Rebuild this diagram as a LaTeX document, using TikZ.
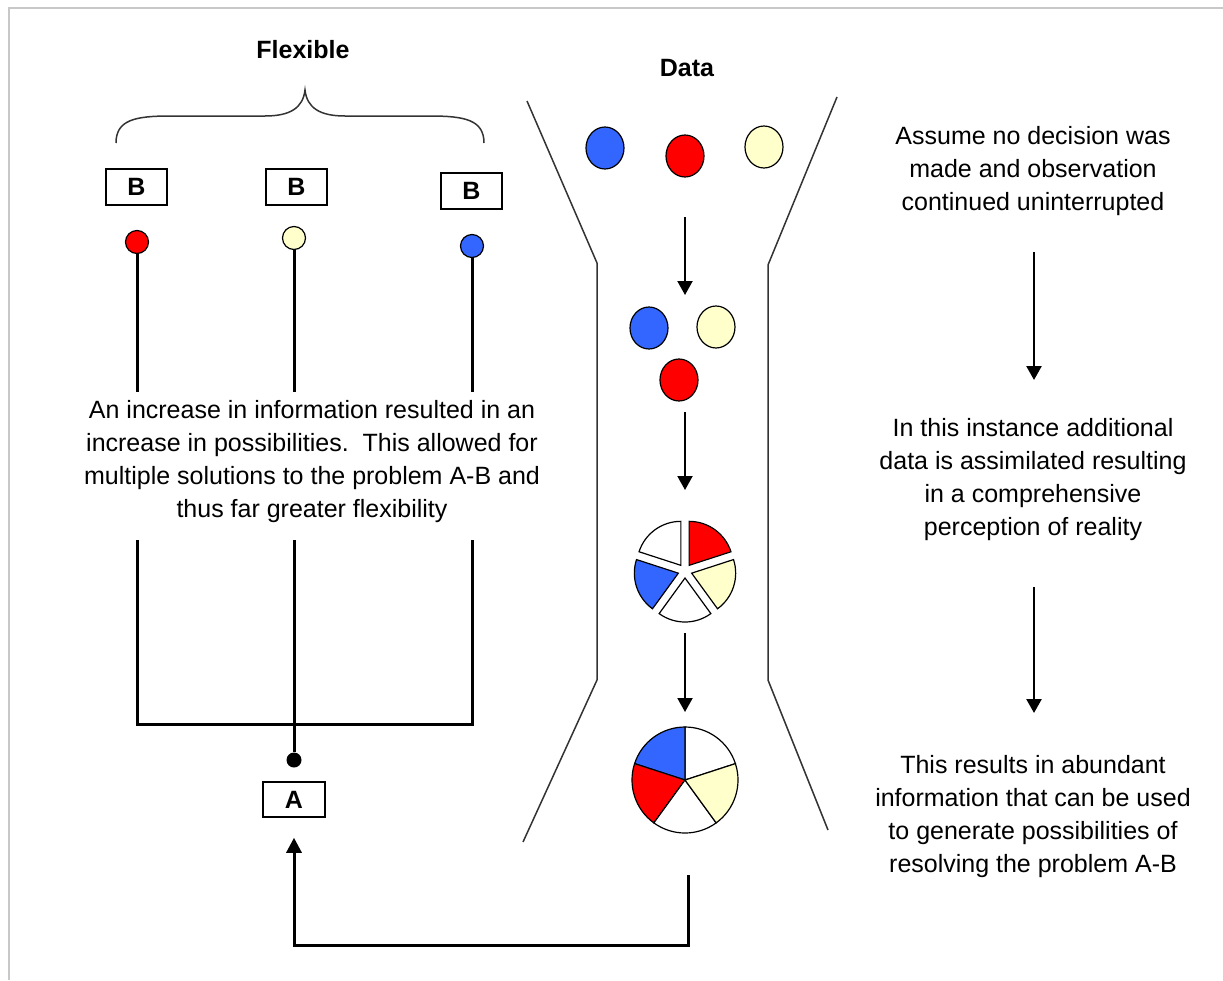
\documentclass[tikz,border=0pt]{standalone}
\usepackage{fontspec}
\setmainfont{Liberation Sans}
\usetikzlibrary{arrows.meta,positioning,shapes.geometric}

\definecolor{ballblue}{HTML}{3366FF}
\definecolor{ballred}{HTML}{FF0000}
\definecolor{ballyellow}{HTML}{FFFFCC}
\definecolor{framegray}{HTML}{C8C8C8}

\tikzset{
  lbox/.style={draw, line width=1.5pt, minimum width=61pt, minimum height=36pt, inner sep=0pt, font=\fontsize{25}{30}\selectfont\bfseries},
  heading/.style={font=\fontsize{25}{30}\selectfont\bfseries},
  note/.style={align=center, inner sep=0pt, font=\fontsize{25}{33}\selectfont},
  knob/.style={circle, draw, line width=1.2pt, minimum size=23pt, inner sep=0pt},
  ball/.style={ellipse, draw, line width=1.2pt, minimum width=38pt, minimum height=42pt, inner sep=0pt},
  stem/.style={line width=3pt},
  flow/.style={line width=2pt, -{Triangle[width=15pt,length=14pt]}},
  back/.style={line width=3pt, -{Triangle[width=15pt,length=15pt]}},
  wall/.style={line width=1.5pt, draw=black!80},
}

\begin{document}
\begin{tikzpicture}[x=1pt,y=-1pt]
\useasboundingbox (0,0) rectangle (1223,980);
\draw[framegray, line width=2pt] (9,980) -- (9,7.5) -- (1223,7.5);

% left side
\node[heading] (flex) at (303,50) {Flexible};
\draw[line width=1.5pt, draw=black!80] (116,143) .. controls (116,120) and (135,116) .. (170,116) -- (265,116)
  .. controls (290,116) and (303,108) .. (305,90) .. controls (307,108) and (320,116) .. (345,116) -- (430,116)
  .. controls (465,116) and (484,120) .. (484,143);
\node[lbox] (b1) at (136.5,187) {B};
\node[lbox] (b2) at (296.5,187) {B};
\node[lbox] (b3) at (471.5,191) {B};
\node[knob, fill=ballred] (dr) at (137,242) {};
\node[knob, fill=ballyellow] (dy) at (294,238) {};
\node[knob, fill=ballblue] (db) at (472,246) {};
\coordinate (u1) at (137,392);
\coordinate (u2) at (294,392);
\coordinate (u3) at (472,392);
\draw[stem] (dr) -- (u1);
\draw[stem] (dy) -- (u2);
\draw[stem] (db) -- (u3);
\node[note] (info) at (312,462) {An increase in information resulted in an\\increase in possibilities.\ \ This allowed for\\multiple solutions to the problem A-B and\\thus far greater flexibility};
\coordinate (l1) at (137,540);
\coordinate (l2) at (294,540);
\coordinate (l3) at (472,540);
\coordinate (j1) at (137,724);
\draw[stem] (l1) -- (j1) -| (l3);
\node[circle, fill=black, minimum size=15pt, inner sep=0pt] (dA) at (294,760) {};
\draw[stem] (l2) -- (dA);
\node[lbox, minimum width=62pt, minimum height=35pt] (A) at (294,799.5) {A};

% funnel
\node[heading] (data) at (687,68) {Data};
\draw[wall] (527,101) -- (597,263) -- (597,680) -- (523,842);
\draw[wall] (837,97) -- (768,265) -- (768,680) -- (828,830);
\node[ball, fill=ballblue] (c1) at (605,148) {};
\node[ball, fill=ballred] (c2) at (685,156) {};
\node[ball, fill=ballyellow] (c3) at (764,147) {};
\node[ball, fill=ballblue] (c4) at (649,328) {};
\node[ball, fill=ballyellow] (c5) at (716,327) {};
\node[ball, fill=ballred] (c6) at (679,380) {};
\coordinate (m1) at (685,217);
\coordinate (m2) at (685,295);
\coordinate (m3) at (685,412);
\coordinate (m4) at (685,490);
\coordinate (m5) at (685,633);
\coordinate (m6) at (685,712);
\draw[flow] (m1) -- (m2);
\draw[flow] (m3) -- (m4);
\draw[flow] (m5) -- (m6);
% pies
\begin{scope}[shift={(685,571)}, yscale=-1]
\foreach \a/\b/\c in {18/90/ballred, 90/162/white, 162/234/ballblue, 234/306/white, 306/378/ballyellow}
  \draw[fill=\c, line width=1.2pt] ({7*cos((\a+\b)/2)},{7*sin((\a+\b)/2)}) -- ++(\a:44) arc[start angle=\a, end angle=\b, radius=44] -- cycle;
\end{scope}
\begin{scope}[shift={(685,780)}, yscale=-1]
\foreach \a/\b/\c in {18/90/white, 90/162/ballblue, 162/234/ballred, 234/306/white, 306/378/ballyellow}
  \draw[fill=\c, line width=1.2pt] (0,0) -- (\a:53) arc[start angle=\a, end angle=\b, radius=53] -- cycle;
\end{scope}
\coordinate (fb) at (688,875);
\draw[back] (fb) -- (688,945) -| ([yshift=-20pt]A.south);

% right side
\node[note] (t1) at (1033,171) {Assume no decision was\\made and observation\\continued uninterrupted};
\node[note] (t2) at (1033,480) {In this instance additional\\data is assimilated resulting\\in a comprehensive\\perception of reality};
\node[note] (t3) at (1033,817) {This results in abundant\\information that can be used\\to generate possibilities of\\resolving the problem A-B};
\coordinate (r1) at (1034,252);
\coordinate (r2) at (1034,380);
\coordinate (r3) at (1034,587);
\coordinate (r4) at (1034,713);
\draw[flow, line width=2.5pt] (r1) -- (r2);
\draw[flow, line width=2.5pt] (r3) -- (r4);
\end{tikzpicture}
\end{document}
